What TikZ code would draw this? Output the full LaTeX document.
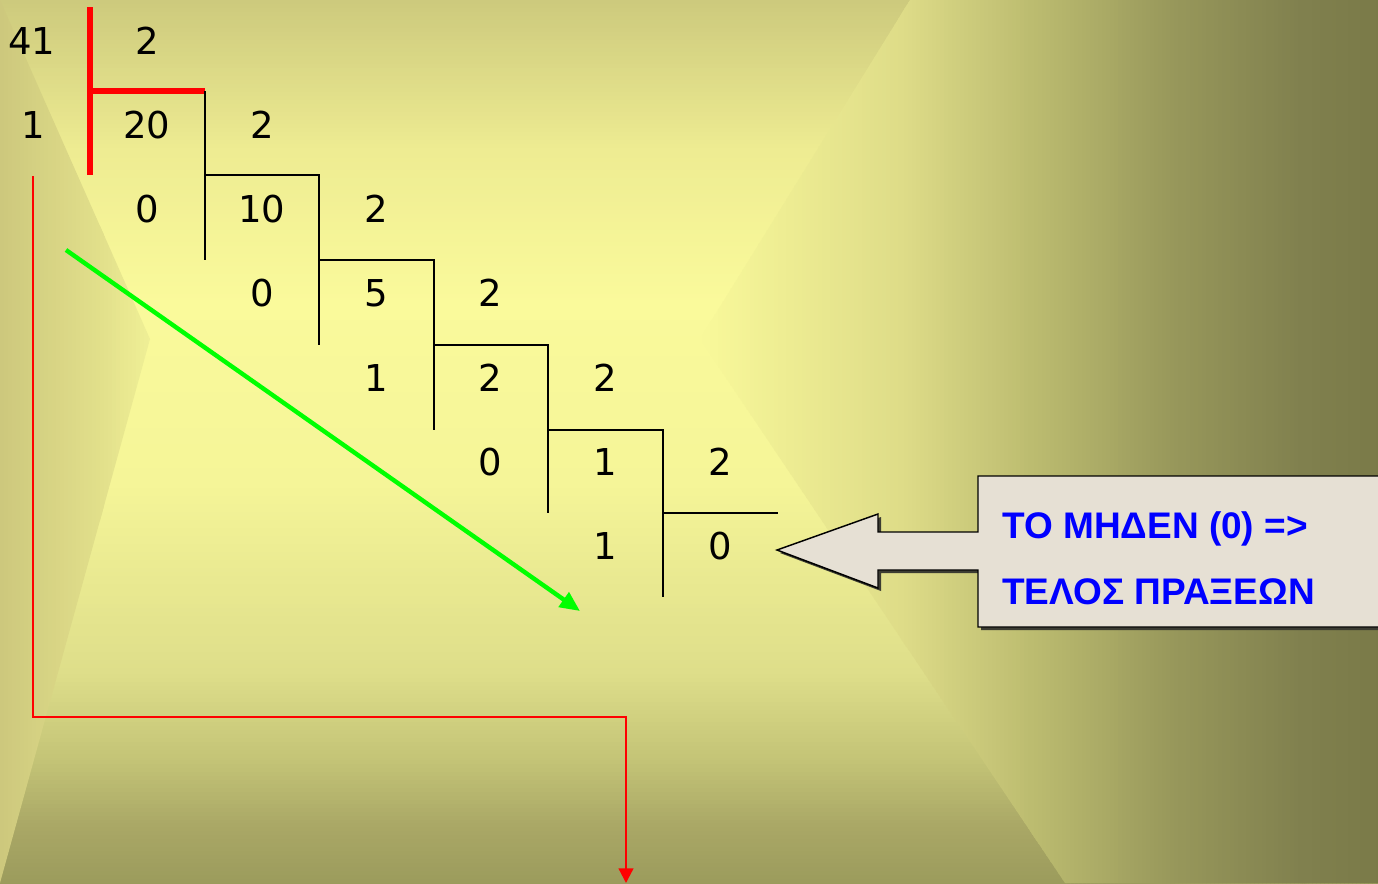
\documentclass[tikz,border=0pt]{standalone}
\usepackage{fontspec}
\setmainfont{DejaVu Sans}
\newfontfamily\calfont{Liberation Sans}
\usetikzlibrary{arrows.meta}
\definecolor{redline}{RGB}{255,0,0}
\definecolor{greenline}{RGB}{0,255,0}
\definecolor{calfill}{RGB}{230,224,212}
\definecolor{calshadow}{RGB}{60,60,50}
\definecolor{caltext}{RGB}{0,0,255}
% background colour stops
\definecolor{vA}{RGB}{205,202,125}
\definecolor{vB}{RGB}{238,236,146}
\definecolor{vC}{RGB}{250,250,155}
\definecolor{vD}{RGB}{245,245,152}
\definecolor{vE}{RGB}{222,222,138}
\definecolor{vF}{RGB}{195,195,118}
\definecolor{vG}{RGB}{170,168,102}
\definecolor{vH}{RGB}{155,155,92}
\definecolor{fA}{RGB}{222,220,136}
\definecolor{fB}{RGB}{188,188,112}
\definecolor{fC}{RGB}{152,152,91}
\definecolor{fD}{RGB}{128,128,78}
\definecolor{fE}{RGB}{122,122,72}
\definecolor{lA}{RGB}{205,200,125}
\definecolor{lB}{RGB}{226,224,139}
\definecolor{lC}{RGB}{240,240,150}
% strips: columns (vary with x) and rows (vary with y)
\newcommand\bgcols[4]{%
  \pgfmathtruncatemacro\nst{ceil((#2-#1)/4)}%
  \foreach \i in {0,...,\nst}{%
    \pgfmathsetmacro\xa{#1+4*\i}%
    \pgfmathsetmacro\pp{max(0,min(100,100-(4*\i/(#2-#1))*100))}%
    \fill[#3!\pp!#4] (\xa,-5) rectangle ++(4.6,895);
  }}
\newcommand\bgrows[4]{%
  \pgfmathtruncatemacro\nst{ceil((#2-#1)/4)}%
  \foreach \i in {0,...,\nst}{%
    \pgfmathsetmacro\ya{#1+4*\i}%
    \pgfmathsetmacro\pp{max(0,min(100,100-(4*\i/(#2-#1))*100))}%
    \fill[#3!\pp!#4] (-5,\ya) rectangle ++(1395,4.6);
  }}
\tikzset{
  num/.style={font=\fontsize{27.75}{30}\selectfont, inner sep=0pt, text=black},
  divline/.style={line width=1.6pt, black},
  reddiv/.style={line width=4pt, redline},
  calout/.style={draw=black, line width=1.1pt, fill=calfill},
  caltxt/.style={font=\calfont\bfseries\fontsize{27.75}{30}\selectfont, text=caltext, inner sep=0pt, anchor=base west},
}
\begin{document}
\begin{tikzpicture}[x=0.75pt,y=-0.75pt]
\useasboundingbox (0,0) rectangle (1378,883);
% background
\begin{scope}
  \clip (0,0) rectangle (1378,883);
  \bgrows{0}{150}{vA}{vB}
  \bgrows{150}{300}{vB}{vC}
  \bgrows{300}{480}{vC}{vD}
  \bgrows{480}{670}{vD}{vE}
  \bgrows{670}{760}{vE}{vF}
  \bgrows{760}{823}{vF}{vG}
  \bgrows{823}{883}{vG}{vH}
\end{scope}
\begin{scope}
  \clip (910,0) -- (1378,0) -- (1378,883) -- (1065,883) -- (700,339) -- cycle;
  \bgcols{690}{900}{vC}{fA}
  \bgcols{900}{1030}{fA}{fB}
  \bgcols{1030}{1170}{fB}{fC}
  \bgcols{1170}{1300}{fC}{fD}
  \bgcols{1300}{1380}{fD}{fE}
\end{scope}
\begin{scope}
  \clip (0,0) -- (150,339) -- (0,883) -- cycle;
  \bgcols{0}{100}{lA}{lB}
  \bgcols{100}{150}{lB}{lC}
\end{scope}
% numbers
\node[num] (n41) at (32,41) {41};
\node[num] (d1) at (147,41) {2};
\node[num] (r1) at (33,125) {1};
\node[num] (q1) at (147,125) {20};
\node[num] (d2) at (262,125) {2};
\node[num] (r2) at (147,209) {0};
\node[num] (q2) at (262,209) {10};
\node[num] (d3) at (376,209) {2};
\node[num] (r3) at (262,293) {0};
\node[num] (q3) at (376,293) {5};
\node[num] (d4) at (490,293) {2};
\node[num] (r4) at (376,378) {1};
\node[num] (q4) at (490,378) {2};
\node[num] (d5) at (605,378) {2};
\node[num] (r5) at (490,462) {0};
\node[num] (q5) at (605,462) {1};
\node[num] (d6) at (720,462) {2};
\node[num] (r6) at (605,546) {1};
\node[num] (q6) at (720,546) {0};
% division brackets
\draw[reddiv] (90,7) -- (90,175);
\draw[reddiv] (90,91) -- (205,91);
\draw[divline] (205,91) -- (205,260);
\draw[divline] (205,175) -- (319,175) -- (319,345);
\draw[divline] (319,260) -- (434,260) -- (434,430);
\draw[divline] (434,345) -- (548,345) -- (548,513);
\draw[divline] (548,430) -- (663,430) -- (663,597);
\draw[divline] (663,513) -- (778,513);
% green arrow
\coordinate (gs) at (66,250);
\coordinate (ge) at (580,611);
\draw[greenline, line width=3.3pt, -{Triangle[length=15pt,width=13pt]}] (gs) -- (ge);
% red path
\coordinate (rs) at (33,176);
\coordinate (re) at (626,883);
\draw[redline, line width=1.7pt, -{Triangle[length=11pt,width=11pt]}] (rs) |- (626,717) -- (re);
% callout
\fill[calshadow] (981,479) -- (1385,479) -- (1385,630) -- (981,630) -- (981,573) -- (881,573) -- (881,591) -- (780,553) -- (881,517) -- (881,535) -- (981,535) -- cycle;
\draw[calout] (978,476) -- (1385,476) -- (1385,627) -- (978,627) -- (978,570) -- (878,570) -- (878,588) -- (777,550) -- (878,514) -- (878,532) -- (978,532) -- cycle;
\node[caltxt] (t1) at (1002,538) {ΤΟ ΜΗΔΕΝ (0) =>};
\node[caltxt] (t2) at (1002,604) {ΤΕΛΟΣ ΠΡΑΞΕΩΝ};
\end{tikzpicture}
\end{document}
